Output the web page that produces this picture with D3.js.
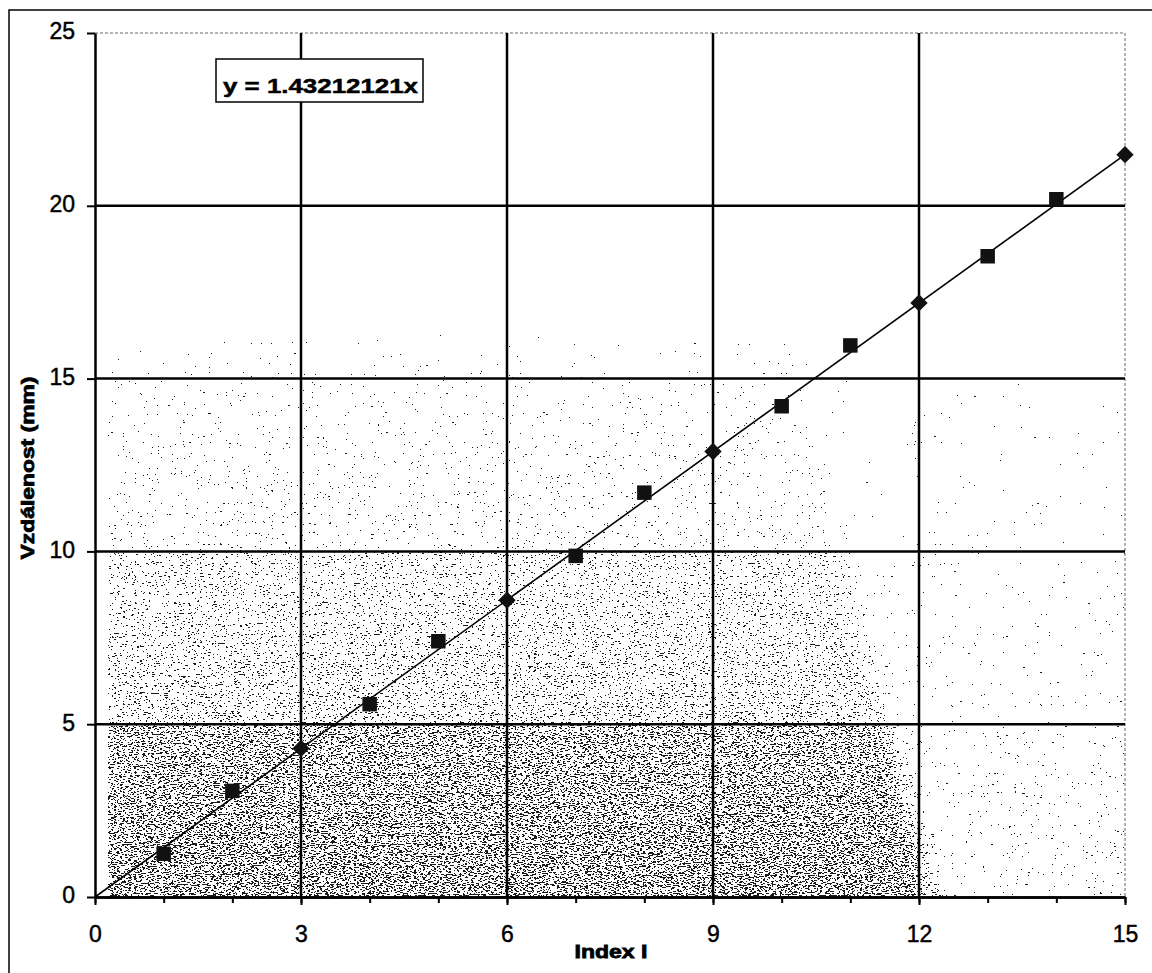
<!DOCTYPE html>
<html>
<head>
<meta charset="utf-8">
<script src="https://cdn.jsdelivr.net/npm/d3@7"></script>
<style>
  html, body { margin: 0; padding: 0; background: #fff; }
  svg { display: block; }
</style>
</head>
<body>
<script>
// Measured distances for each index
const indexValues    = [1, 2, 4, 5, 7, 8, 10, 11, 13, 14];
const distanceValues = [1.25, 3.07, 5.58, 7.40, 9.87, 11.70, 14.20, 15.96, 18.54, 20.19];

// Points on the fitted line (diamond markers)
const fitIndex    = [3, 6, 9, 12, 15];
const fitDistance = [4.30, 8.59, 12.89, 17.19, 21.48];

// Fitted slope (line through origin)
const slope = 1.43212121;

const xTicks      = [0, 3, 6, 9, 12, 15];
const xMinorTicks = [0, 1, 2, 3, 4, 5, 6, 7, 8, 9, 10, 11, 12, 13, 14, 15];
const yTicks      = [0, 5, 10, 15, 20, 25];
const xGrid       = [3, 6, 9, 12];
const yGrid       = [5, 10, 15, 20];

const equationLabel = "y = 1.43212121x";
const xTitle = "Index I";
const yTitle = "Vzdálenost (mm)";

const W = 1152, H = 973;
const X0 = 95, X1 = 1125, Y0 = 897, Y1 = 33;

const x = d3.scaleLinear().domain([0, 15]).range([X0, X1]);
const y = d3.scaleLinear().domain([0, 25]).range([Y0, Y1]);

const svg = d3.select("body").append("svg")
  .attr("width", W).attr("height", H)
  .attr("viewBox", `0 0 ${W} ${H}`)
  .style("font-family", "'Liberation Sans', Arial, sans-serif");

svg.append("rect").attr("width", W).attr("height", H).attr("fill", "#fff");

// ---- defs: printed-paper stipple in the plot background ----
const defs = svg.append("defs");

const dens = defs.append("linearGradient")
  .attr("id", "dens").attr("x1", 0).attr("y1", 0).attr("x2", 0).attr("y2", 1);
[
  [0.00, 0.00], [0.32, 0.00], [0.38, 0.06], [0.40, 0.10],
  [0.5999, 0.16], [0.60, 0.24], [0.7999, 0.30], [0.80, 0.40], [1.00, 0.45]
].forEach(([o, a]) => dens.append("stop")
  .attr("offset", o).attr("stop-color", "#000").attr("stop-opacity", a));

const fade = defs.append("linearGradient")
  .attr("id", "hfade").attr("gradientUnits", "userSpaceOnUse")
  .attr("x1", 917).attr("y1", 901).attr("x2", 952).attr("y2", 892);
fade.append("stop").attr("offset", 0).attr("stop-color", "#fff").attr("stop-opacity", 1);
fade.append("stop").attr("offset", 1).attr("stop-color", "#fff").attr("stop-opacity", 0.3);

defs.append("mask").attr("id", "fadeMask")
  .attr("maskUnits", "userSpaceOnUse")
  .attr("x", X0).attr("y", Y1).attr("width", X1 - X0).attr("height", Y0 - Y1)
  .append("rect")
  .attr("x", X0).attr("y", Y1).attr("width", X1 - X0).attr("height", Y0 - Y1)
  .attr("fill", "url(#hfade)");

const f = defs.append("filter").attr("id", "stipple")
  .attr("filterUnits", "userSpaceOnUse")
  .attr("x", X0).attr("y", Y1).attr("width", X1 - X0).attr("height", Y0 - Y1)
  .attr("color-interpolation-filters", "sRGB");
f.append("feTurbulence").attr("type", "fractalNoise")
  .attr("baseFrequency", "0.35 0.9").attr("numOctaves", 2).attr("seed", 7)
  .attr("result", "noise");
f.append("feColorMatrix").attr("in", "noise").attr("type", "matrix")
  .attr("values", "0 0 0 0 0  0 0 0 0 0  0 0 0 0 0  1.6 0 0 0 -0.3")
  .attr("result", "n");
f.append("feComposite").attr("in", "n").attr("in2", "SourceAlpha")
  .attr("operator", "arithmetic")
  .attr("k1", 0).attr("k2", 1).attr("k3", 1).attr("k4", -0.53)
  .attr("result", "sum");
f.append("feComponentTransfer").attr("in", "sum").attr("result", "dots")
  .append("feFuncA").attr("type", "discrete").attr("tableValues", "0 1");
f.append("feFlood").attr("flood-color", "#1a1a1a").attr("result", "ink");
f.append("feComposite").attr("in", "ink").attr("in2", "dots").attr("operator", "in");

// Outer chart frame
svg.append("rect")
  .attr("x", 9).attr("y", 10).attr("width", 1200).attr("height", 1000)
  .attr("fill", "none").attr("stroke", "#000").attr("stroke-width", 1.5);

// Stippled background
svg.append("g").attr("filter", "url(#stipple)")
  .append("rect")
  .attr("x", x(0.19)).attr("y", Y1)
  .attr("width", X1 - x(0.19)).attr("height", Y0 - Y1)
  .attr("fill", "url(#dens)")
  .attr("mask", "url(#fadeMask)");

// Plot-area border (top and right), thin dashed
svg.append("path")
  .attr("d", `M${X0},${Y1}H${X1}V${Y0}`)
  .attr("fill", "none").attr("stroke", "#666")
  .attr("stroke-width", 1).attr("stroke-dasharray", "3,2");

// Major gridlines
const grid = svg.append("g").attr("stroke", "#000").attr("stroke-width", 2.5);
grid.selectAll("line.gy").data(yGrid).join("line")
  .attr("class", "gy")
  .attr("x1", X0).attr("x2", X1)
  .attr("y1", d => y(d)).attr("y2", d => y(d));
grid.selectAll("line.gx").data(xGrid).join("line")
  .attr("class", "gx")
  .attr("y1", Y0).attr("y2", Y1)
  .attr("x1", d => x(d)).attr("x2", d => x(d));

// Axes
const yAxis = svg.append("g")
  .attr("transform", `translate(${X0},0)`)
  .call(d3.axisLeft(y).tickValues(yTicks).tickSize(8).tickSizeOuter(0).tickPadding(12));
const xMinor = svg.append("g")
  .attr("transform", `translate(0,${Y0})`)
  .call(d3.axisBottom(x).tickValues(xMinorTicks).tickSize(6).tickSizeOuter(0).tickFormat(""));
const xAxis = svg.append("g")
  .attr("transform", `translate(0,${Y0})`)
  .call(d3.axisBottom(x).tickValues(xTicks).tickSize(8).tickSizeOuter(0).tickPadding(21));

[yAxis, xAxis, xMinor].forEach(g => {
  g.select(".domain").attr("stroke", "#000").attr("stroke-width", 2.5);
  g.selectAll(".tick line").attr("stroke", "#000").attr("stroke-width", 2);
  g.selectAll(".tick text")
    .attr("fill", "#000")
    .attr("stroke", "#000").attr("stroke-width", 0.45)
    .style("font-size", "23px")
    .style("font-family", "'Liberation Sans', Arial, sans-serif");
});
yAxis.selectAll(".tick text").attr("dy", "0.26em");

// Fitted line through origin
const lineGen = d3.line().x(d => x(d)).y(d => y(slope * d));
svg.append("path")
  .datum([0, 15])
  .attr("d", lineGen)
  .attr("fill", "none").attr("stroke", "#000").attr("stroke-width", 1.6);

// Measured points (squares)
svg.append("g").selectAll("path").data(indexValues).join("path")
  .attr("d", d3.symbol(d3.symbolSquare, 210))
  .attr("transform", (d, i) => `translate(${x(d)},${y(distanceValues[i])})`)
  .attr("fill", "#111");

// Fitted points (diamonds)
svg.append("g").selectAll("path").data(fitIndex).join("path")
  .attr("d", d3.symbol(d3.symbolSquare, 150))
  .attr("transform", (d, i) => `translate(${x(d)},${y(fitDistance[i])}) rotate(45)`)
  .attr("fill", "#111");

// Equation box
svg.append("rect")
  .attr("x", 216).attr("y", 59).attr("width", 207).attr("height", 43)
  .attr("fill", "#fff").attr("stroke", "#000").attr("stroke-width", 1.5);
svg.append("text")
  .attr("x", 223).attr("y", 93)
  .attr("textLength", 195).attr("lengthAdjust", "spacingAndGlyphs")
  .style("font-size", "21px").style("font-weight", "bold")
  .attr("fill", "#000").attr("stroke", "#000").attr("stroke-width", 0.5)
  .text(equationLabel);

// Axis titles
svg.append("text")
  .attr("x", 611).attr("y", 958)
  .attr("text-anchor", "middle")
  .attr("textLength", 73).attr("lengthAdjust", "spacingAndGlyphs")
  .style("font-size", "19px").style("font-weight", "bold")
  .attr("fill", "#000").attr("stroke", "#000").attr("stroke-width", 0.8)
  .text(xTitle);

svg.append("text")
  .attr("transform", "translate(34,468) rotate(-90)")
  .attr("text-anchor", "middle")
  .attr("textLength", 183).attr("lengthAdjust", "spacingAndGlyphs")
  .style("font-size", "19px").style("font-weight", "bold")
  .attr("fill", "#000").attr("stroke", "#000").attr("stroke-width", 0.8)
  .text(yTitle);
</script>
</body>
</html>
